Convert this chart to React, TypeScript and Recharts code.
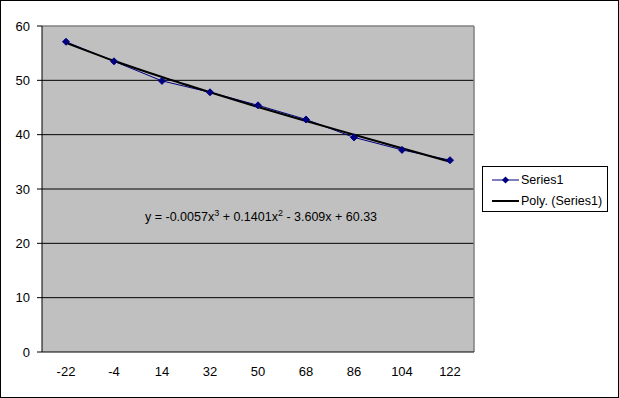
import React from 'react';
import { LineChart, Line, XAxis, YAxis, CartesianGrid, ReferenceLine } from 'recharts';

const categories = ['-22', '-4', '14', '32', '50', '68', '86', '104', '122'];
const series1 = [57.1, 53.5, 49.9, 47.8, 45.4, 42.8, 39.5, 37.2, 35.3];
// trendline at each category
const polyTrend = [56.9, 53.6, 50.6, 47.8, 45.1, 42.5, 40.0, 37.5, 35.0];
const yTicks = [0, 10, 20, 30, 40, 50, 60];
const gridValues = [10, 20, 30, 40, 50];

const COLORS = {
  series: '#000080',
  trend: '#000000',
  plot: '#C0C0C0',
  border: '#808080',
};

const FONT = '"Liberation Sans", Arial, sans-serif';

const data = categories.map((c, i) => ({ idx: i + 1, label: c, s1: series1[i], poly: polyTrend[i] }));
const labelTicks = categories.map((_, i) => i + 1);
const boundaryTicks = [0.5, ...categories.map((_, i) => i + 1.5)];

const Diamond = (props: any) => {
  const { cx, cy } = props;
  if (cx == null || cy == null) return null;
  const r = 3.5;
  return (
    <polygon
      points={`${cx},${cy - r} ${cx + r},${cy} ${cx},${cy + r} ${cx - r},${cy}`}
      fill={COLORS.series}
      stroke={COLORS.series}
    />
  );
};

const LegendBox = () => (
  <div
    style={{
      position: 'absolute',
      left: 481,
      top: 165,
      width: 126,
      height: 46,
      border: '1px solid #000',
      background: '#fff',
      fontFamily: FONT,
      fontSize: 12.5,
      color: '#000',
      boxSizing: 'border-box',
    }}
  >
    <div style={{ display: 'flex', alignItems: 'center', height: 14, marginTop: 6 }}>
      <svg width={38} height={10}>
        <line x1={9} y1={5} x2={36} y2={5} stroke={COLORS.series} strokeWidth={1} />
        <polygon points="22.5,1.5 26,5 22.5,8.5 19,5" fill={COLORS.series} />
      </svg>
      <span>Series1</span>
    </div>
    <div style={{ display: 'flex', alignItems: 'center', height: 14, marginTop: 7 }}>
      <svg width={38} height={10}>
        <line x1={9} y1={5} x2={36} y2={5} stroke={COLORS.trend} strokeWidth={2} />
      </svg>
      <span>Poly. (Series1)</span>
    </div>
  </div>
);

export default function App() {
  return (
    <div
      style={{
        position: 'absolute',
        left: 0,
        top: 0,
        width: 619,
        height: 398,
        background: '#fff',
        border: '1px solid #000',
        boxSizing: 'border-box',
        overflow: 'hidden',
      }}
    >
      <div style={{ position: 'absolute', left: -1, top: -1 }}>
        <LineChart width={619} height={398} data={data} margin={{ top: 26, right: 145, bottom: 0, left: 0 }}>
          <CartesianGrid
            xAxisId="a"
            vertical={false}
            horizontalValues={gridValues}
            stroke="#000"
            strokeWidth={1}
            fill={COLORS.plot}
            fillOpacity={1}
          />
          <ReferenceLine xAxisId="a" y={60} stroke={COLORS.border} strokeWidth={1.5} />
          <ReferenceLine xAxisId="a" x={9.5} stroke={COLORS.border} strokeWidth={1.5} />
          <YAxis
            domain={[0, 60]}
            ticks={yTicks}
            width={42}
            axisLine={{ stroke: '#000' }}
            tickLine={{ stroke: '#000' }}
            tickSize={5}
            tickMargin={7}
            tick={{ fill: '#000', fontFamily: FONT, fontSize: 13 }}
          />
          <XAxis
            xAxisId="a"
            dataKey="idx"
            type="number"
            domain={[0.5, 9.5]}
            ticks={boundaryTicks}
            height={5}
            axisLine={{ stroke: '#000' }}
            tickLine={{ stroke: '#000' }}
            tickSize={5}
            tick={false}
          />
          <XAxis
            xAxisId="b"
            dataKey="idx"
            type="number"
            domain={[0.5, 9.5]}
            ticks={labelTicks}
            tickFormatter={(v: number) => categories[v - 1]}
            height={41}
            axisLine={false}
            tickLine={false}
            tickSize={0}
            tickMargin={10}
            tick={{ fill: '#000', fontFamily: FONT, fontSize: 13 }}
          />
          <Line
            xAxisId="a"
            dataKey="s1"
            stroke={COLORS.series}
            strokeWidth={1}
            dot={<Diamond />}
            activeDot={false}
            isAnimationActive={false}
          />
          <Line
            xAxisId="a"
            dataKey="poly"
            type="monotone"
            stroke={COLORS.trend}
            strokeWidth={2}
            dot={false}
            activeDot={false}
            isAnimationActive={false}
          />
        </LineChart>
      </div>
      <LegendBox />
      <div
        style={{
          position: 'absolute',
          left: 144,
          top: 207,
          fontFamily: FONT,
          fontSize: 12.5,
          color: '#000',
          whiteSpace: 'nowrap',
        }}
      >
        y = -0.0057x<sup style={{ fontSize: 9 }}>3</sup> + 0.1401x<sup style={{ fontSize: 9 }}>2</sup> - 3.609x + 60.33
      </div>
    </div>
  );
}
